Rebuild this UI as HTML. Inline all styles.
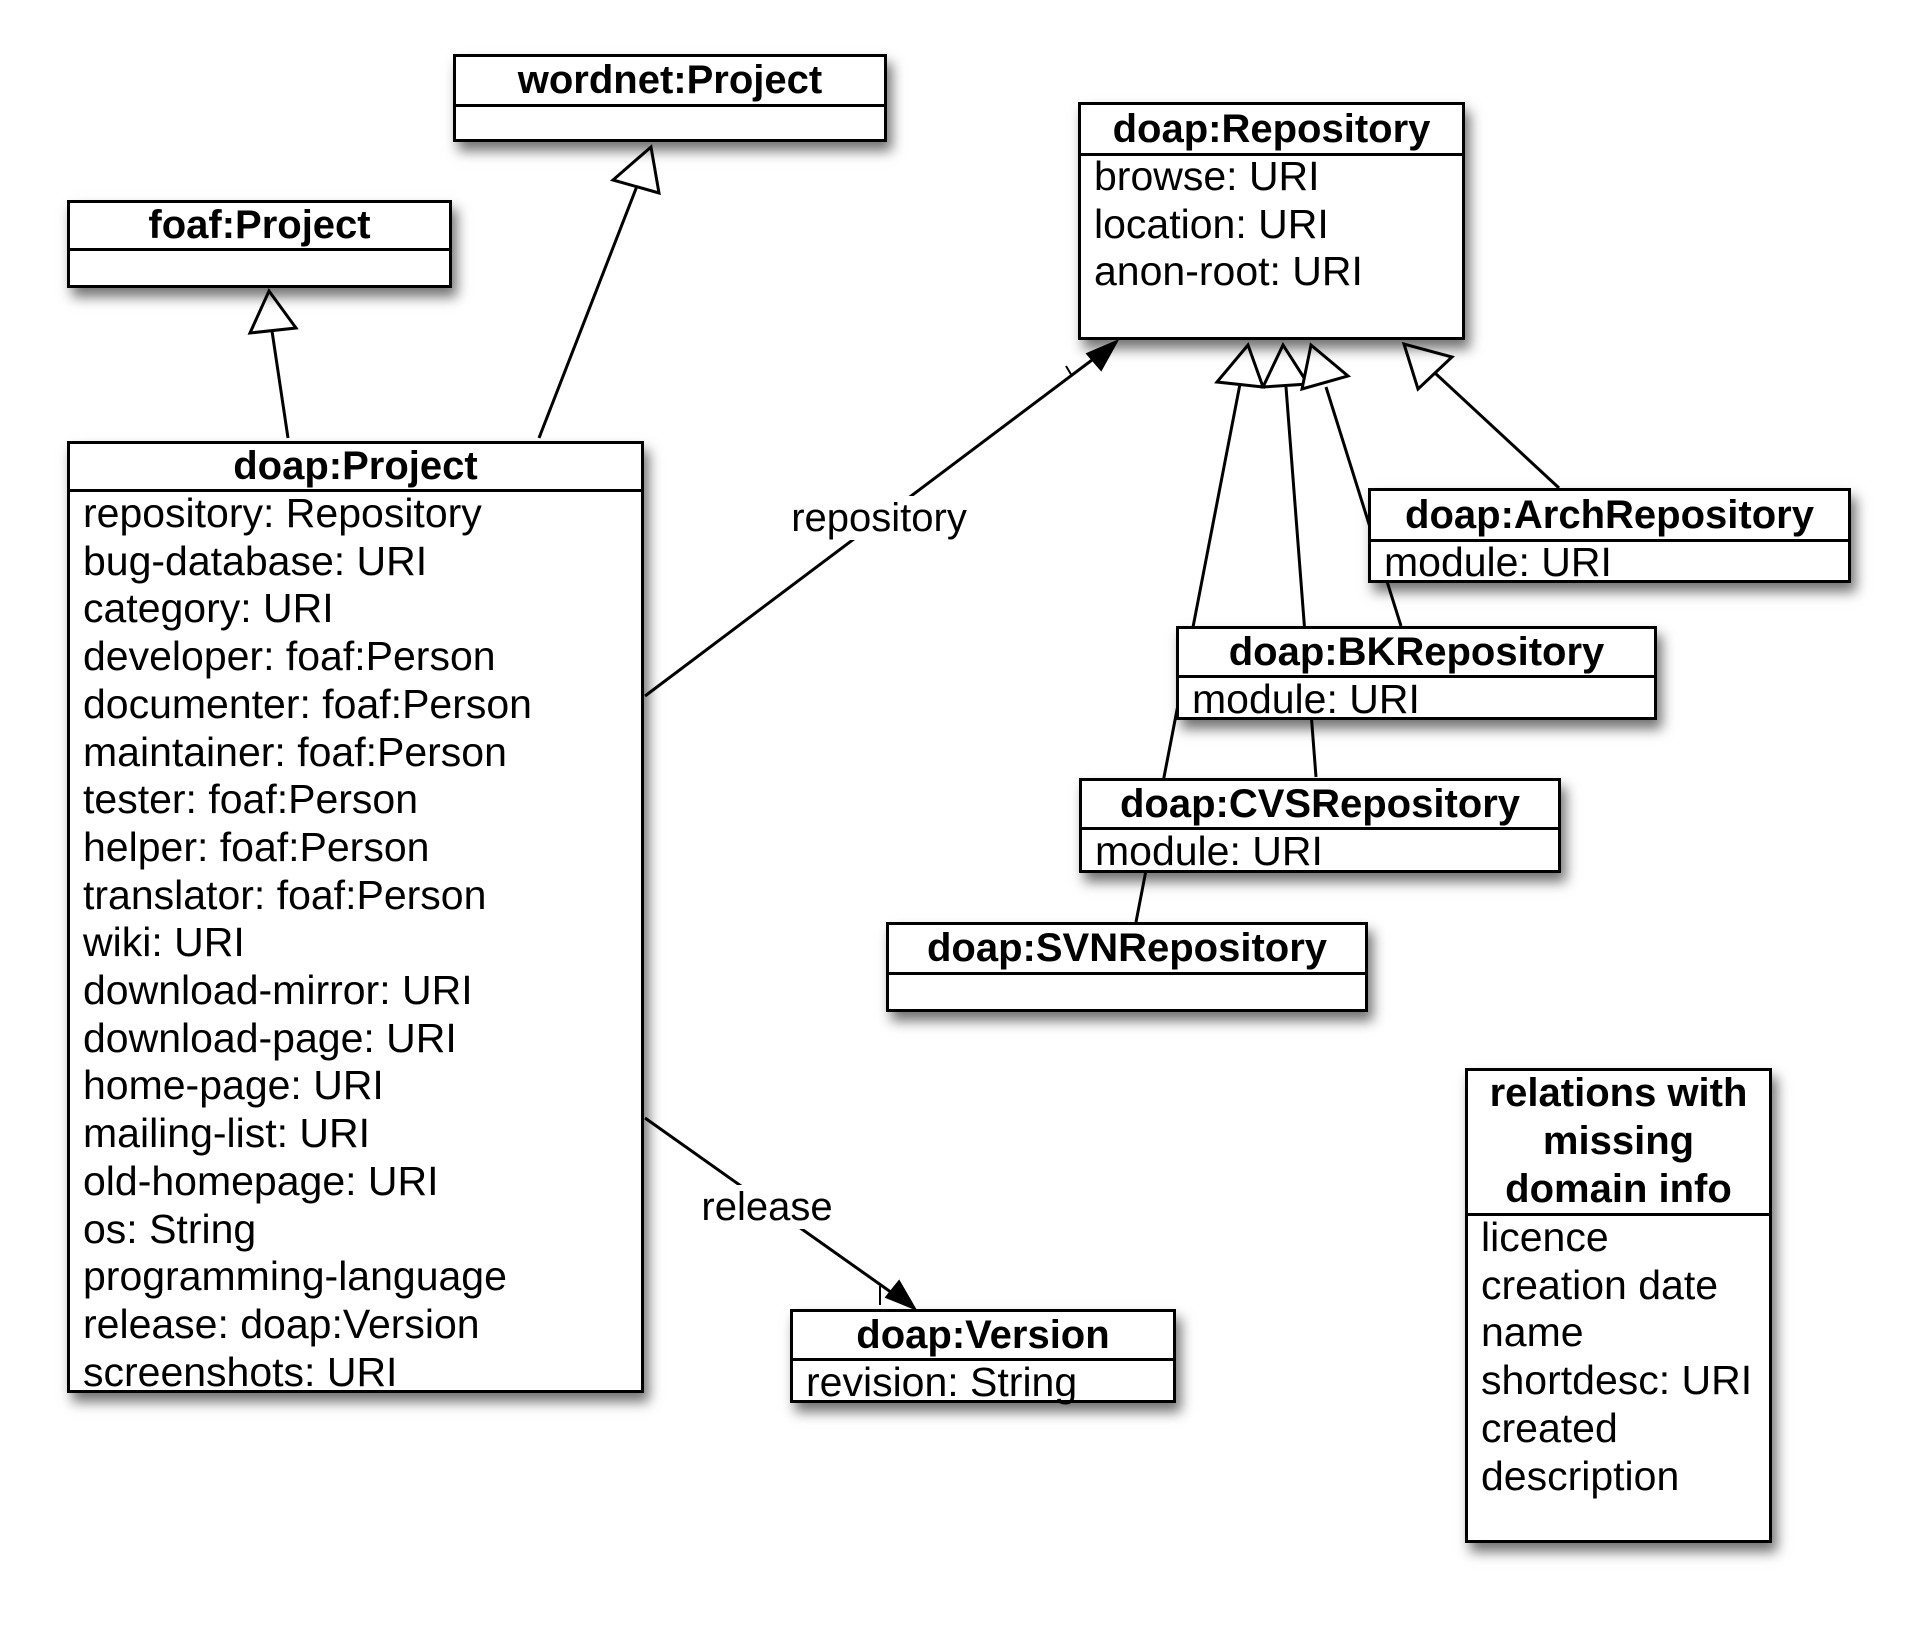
<!DOCTYPE html>
<html><head><meta charset="utf-8"><style>
html,body{margin:0;padding:0;background:#fff;width:1920px;height:1627px;overflow:hidden}
body{position:relative;font-family:"Liberation Sans",Arial,sans-serif;color:#000}
.b{position:absolute;background:#fff;border:3px solid #000;box-sizing:border-box;box-shadow:5px 9px 12px rgba(0,0,0,.55)}
.h{position:absolute;left:0;right:0;top:0;border-bottom:3px solid #000;box-sizing:border-box;display:flex;align-items:center;justify-content:center;font-weight:bold;font-size:40px;line-height:47px;text-align:center;white-space:nowrap}
.a{position:absolute;left:13px;font-size:41px;line-height:47.7px;white-space:nowrap}
svg{position:absolute;left:0;top:0}
.lbl{position:absolute;font-size:40px;background:#fff;line-height:44px;padding:0 4px;transform:translate(-50%,-50%);white-space:nowrap}
</style></head><body>
<svg width="1920" height="1627" viewBox="0 0 1920 1627">
<g stroke="#000" stroke-width="3" fill="#fff">
<line x1="288" y1="438" x2="272" y2="331"/>
<polygon points="269,291 250,333 296,328"/>
<line x1="539" y1="438" x2="637" y2="186"/>
<polygon points="651,147 613,180 659,193"/>
<line x1="645" y1="696" x2="1104" y2="351"/>
<polygon points="1116,342 1088,354 1101,369" fill="#000"/>
<line x1="1066" y1="366" x2="1072" y2="376" stroke-width="2"/>
<line x1="645" y1="1118" x2="902" y2="1300"/>
<polygon points="914,1308 887,1297 899,1282" fill="#000"/>
<line x1="880" y1="1286" x2="880" y2="1305" stroke-width="2"/>
<line x1="1240" y1="384" x2="1136" y2="922"/>
<line x1="1286" y1="387" x2="1316" y2="777"/>
<line x1="1326" y1="387" x2="1401" y2="626"/>
<line x1="1435" y1="373" x2="1559" y2="488"/>
<polygon points="1248,345 1217,382 1263,387"/>
<polygon points="1283,345 1263,387 1308,384"/>
<polygon points="1311,345 1302,389 1348,376"/>
<polygon points="1404,344 1418,389 1452,357"/>
</g></svg>
<div class="lbl" style="left:879px;top:518px">repository</div>
<div class="lbl" style="left:767px;top:1207px">release</div>

<div class="b" style="left:453px;top:54px;width:434px;height:88px"><div class="h" style="height:50px">wordnet:Project</div></div>
<div class="b" style="left:67px;top:200px;width:385px;height:88px"><div class="h" style="height:48px">foaf:Project</div></div>

<div class="b" style="left:67px;top:441px;width:577px;height:952px"><div class="h" style="height:48px">doap:Project</div>
<div class="a" style="top:46px">repository: Repository<br>bug-database: URI<br>category: URI<br>developer: foaf:Person<br>documenter: foaf:Person<br>maintainer: foaf:Person<br>tester: foaf:Person<br>helper: foaf:Person<br>translator: foaf:Person<br>wiki: URI<br>download-mirror: URI<br>download-page: URI<br>home-page: URI<br>mailing-list: URI<br>old-homepage: URI<br>os: String<br>programming-language<br>release: doap:Version<br>screenshots: URI</div></div>

<div class="b" style="left:1078px;top:102px;width:387px;height:238px"><div class="h" style="height:51px">doap:Repository</div>
<div class="a" style="top:48px">browse: URI<br>location: URI<br>anon-root: URI</div></div>

<div class="b" style="left:1368px;top:488px;width:483px;height:95px"><div class="h" style="height:51px">doap:ArchRepository</div>
<div class="a" style="top:48px">module: URI</div></div>

<div class="b" style="left:1176px;top:626px;width:481px;height:94px"><div class="h" style="height:49px">doap:BKRepository</div>
<div class="a" style="top:47px">module: URI</div></div>

<div class="b" style="left:1079px;top:778px;width:482px;height:95px"><div class="h" style="height:49px">doap:CVSRepository</div>
<div class="a" style="top:47px">module: URI</div></div>

<div class="b" style="left:886px;top:922px;width:482px;height:90px"><div class="h" style="height:50px">doap:SVNRepository</div></div>

<div class="b" style="left:790px;top:1309px;width:386px;height:94px"><div class="h" style="height:49px">doap:Version</div>
<div class="a" style="top:47px">revision: String</div></div>

<div class="b" style="left:1465px;top:1068px;width:307px;height:475px"><div class="h" style="height:145px;line-height:47.7px;white-space:normal">relations with<br>missing<br>domain info</div>
<div class="a" style="top:143px">licence<br>creation date<br>name<br>shortdesc: URI<br>created<br>description</div></div>
</body></html>
